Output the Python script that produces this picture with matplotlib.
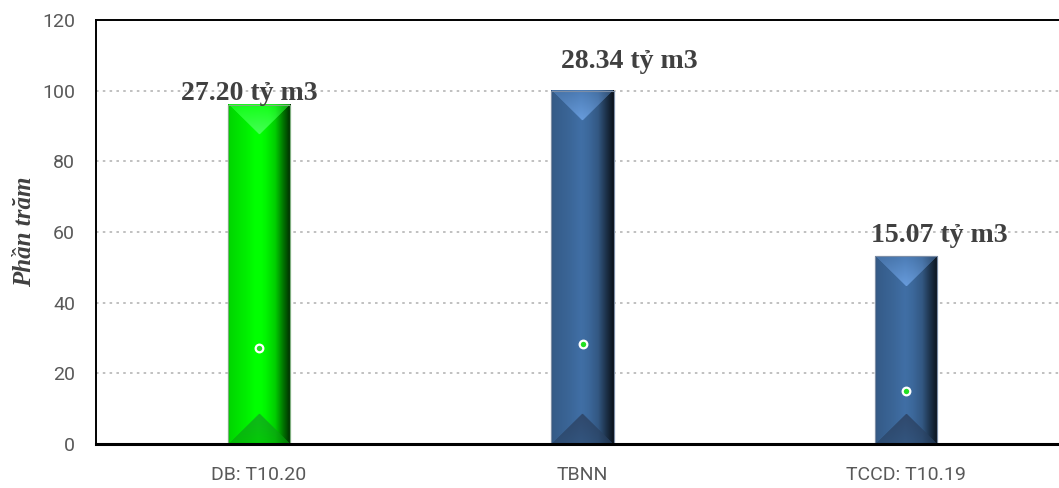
import numpy as np
import matplotlib
matplotlib.use("Agg")
import matplotlib.pyplot as plt
from matplotlib.colors import to_rgb

# ---- data -----------------------------------------------------------------
categories = ["DB: T10.20", "TBNN", "TCCD: T10.19"]
percent = [95.98, 100.0, 53.17]          # bar heights, % of the long-term mean
volume = [27.20, 28.34, 15.07]           # reservoir volume, billion m3
y_ticks = [0, 20, 40, 60, 80, 100, 120]

# ---- styling ----------------------------------------------------------------
bar_colors = ["#00f000", "#3b6698", "#3b6698"]
top_light = ["#48ff5a", "#6494d0", "#6494d0"]
bottom_dark = ["#13a020", "#2b3f5e", "#2b3f5e"]
edge_colors = ["#7fae7f", "#7d8ea6", "#7d8ea6"]
label_dx = [-0.029, 0.145, 0.102]        # horizontal shift of the volume labels
label_base = [97.4, 106.4, 57.2]         # baseline height of the volume labels

W, H, DPI = 1059, 488, 100
unit = 323.5                              # pixels per category
x_left = -0.504
fig = plt.figure(figsize=(W / DPI, H / DPI), dpi=DPI)
ax = fig.add_axes([96 / W, (H - 444) / H, (2.5 - x_left) * unit / W, 424 / H])

x = np.arange(len(categories))
ax.set_xlim(x_left, len(categories) - 0.5)
ax.set_ylim(0, 120)

bars = ax.bar(x, percent, width=0.192, color=bar_colors,
              edgecolor=edge_colors, linewidth=0.8, zorder=2)


def profile(u):
    """Horizontal shading across a bar (1 = base colour)."""
    pts_u = [0.0, 0.04, 0.30, 0.48, 0.60, 0.75, 0.88, 1.0]
    pts_f = [0.80, 0.90, 1.00, 1.09, 1.02, 0.86, 0.48, 0.16]
    return np.interp(u, pts_u, pts_f)


def bevel_image(base, light, dark, wp, hp):
    base = np.array(to_rgb(base))
    light = np.array(to_rgb(light))
    dark = np.array(to_rgb(dark))
    jj, ii = np.meshgrid(np.arange(wp) + 0.5, np.arange(hp) + 0.5)
    u = jj / wp
    img = base[None, None, :] * profile(u)[..., None]
    d_side = np.minimum(jj, wp - jj)
    d_t = ii
    d_b = hp - ii
    half = wp / 2.0
    side_shade = np.clip(profile(u) * 0.5 + 0.55, 0, 1.1)[..., None]
    # upper bevel: lighter toward the apex
    top = (d_t < d_side) & (d_t < half)
    t = np.clip(d_t / half, 0, 1)
    shade_top = (0.25 + 0.65 * t)[..., None]
    top_col = (base * (1 - shade_top) + light * shade_top) * side_shade
    img = np.where(top[..., None], top_col, img)
    # lower bevel: darker toward the apex
    bot = (d_b < d_side) & (d_b < half)
    t2 = np.clip(d_b / half, 0, 1)
    shade_bot = (0.2 + 0.6 * t2)[..., None]
    bot_col = (base * 0.8 * (1 - shade_bot) + dark * shade_bot) * side_shade
    img = np.where(bot[..., None], bot_col, img)
    return np.clip(img, 0, 1)


for rect, base, light, dark in zip(bars.patches, bar_colors, top_light, bottom_dark):
    x0, w, h = rect.get_x(), rect.get_width(), rect.get_height()
    p0 = ax.transData.transform((x0, 0))
    p1 = ax.transData.transform((x0 + w, h))
    wp = max(int(round(p1[0] - p0[0])), 2)
    hp = max(int(round(p1[1] - p0[1])), 2)
    img = bevel_image(base, light, dark, wp, hp)
    ax.imshow(img, extent=[x0, x0 + w, 0, h], origin="upper", aspect="auto",
              interpolation="bilinear", zorder=2.1)
    ax.add_patch(plt.Rectangle((x0, 0), w, h, fill=False,
                               edgecolor=rect.get_edgecolor(), linewidth=0.8,
                               zorder=2.2))

ax.set_xlim(x_left, len(categories) - 0.5)
ax.set_ylim(0, 120)

# volume markers
ax.plot(x, volume, linestyle="none", marker="o", markersize=5.5,
        markerfacecolor="#22e022", markeredgecolor="white",
        markeredgewidth=1.6, zorder=4)

# volume labels
for xi, v, dx, yb in zip(x, volume, label_dx, label_base):
    ax.text(xi + dx, yb, f"{v:.2f} tỷ m3", ha="center", va="baseline",
            fontsize=20, fontweight="bold", family="Liberation Serif",
            color="#404040", zorder=5)

# axes cosmetics
ax.set_yticks(y_ticks)
ax.set_xticks(x)
ax.set_xticklabels(categories)
ax.tick_params(axis="both", length=0)
ax.tick_params(axis="y", pad=15, labelsize=14, labelcolor="#595959")
ax.tick_params(axis="x", pad=16, labelsize=14, labelcolor="#595959")
for lab in ax.get_xticklabels() + ax.get_yticklabels():
    lab.set_family("Roboto")

ax.yaxis.grid(True, color="#c0c0c0", linestyle=(0, (1.3, 2.2)),
              linewidth=1.4, zorder=0)
ax.set_axisbelow(True)

for side in ("left", "top"):
    ax.spines[side].set_color("black")
    ax.spines[side].set_linewidth(1.4)
ax.spines["bottom"].set_color("black")
ax.spines["bottom"].set_linewidth(2.2)
ax.spines["right"].set_visible(False)

ax.set_ylabel("Phần trăm", fontsize=18, fontweight="bold", fontstyle="italic",
              family="Liberation Serif", color="#404040", va="center")
ax.yaxis.set_label_coords((25 - 96) / ((2.5 - x_left) * unit), 0.5)

fig.savefig("out.png", dpi=DPI)
